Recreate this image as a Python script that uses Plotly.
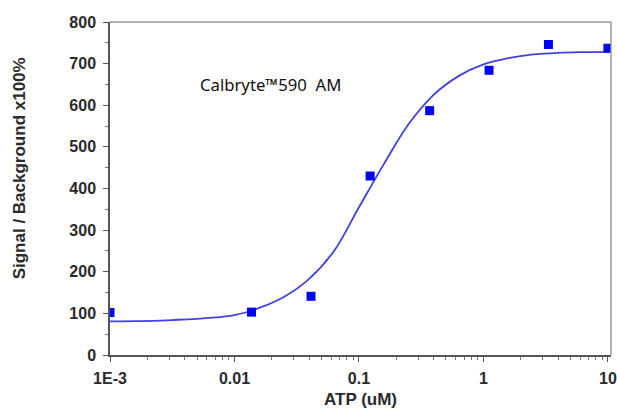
import plotly.graph_objects as go

# Measured data (ATP concentration, uM) and signal/background x100%
atp = [0.001, 0.0137, 0.0412, 0.123, 0.370, 1.11, 3.33, 10]
signal = [102, 103, 141, 430, 587, 684, 746, 737]

# Fitted curve
fit_x = [0.001, 0.00316, 0.01, 0.0158, 0.0251, 0.0398, 0.0631, 0.1, 0.158,
         0.251, 0.398, 0.631, 1.0, 1.585, 2.51, 3.98, 6.31, 10.6]
fit_y = [81, 84, 96, 113, 140, 183, 250, 355, 458, 555, 625, 670, 698, 713,
         722, 726, 727.5, 728]

x_tickvals = [0.001, 0.01, 0.1, 1, 10]
x_ticktext = ["1E-3", "0.01", "0.1", "1", "10"]
x_minor = [m * d for d in [0.001, 0.01, 0.1, 1] for m in range(2, 10)]
y_tickvals = [0, 100, 200, 300, 400, 500, 600, 700, 800]

fig = go.Figure()
fig.add_trace(go.Scatter(
    x=fit_x, y=fit_y, mode="lines",
    line=dict(color="rgb(65,65,225)", width=1.8, shape="spline", smoothing=1.0),
    hoverinfo="skip", showlegend=False))
fig.add_trace(go.Scatter(
    x=atp, y=signal, mode="markers",
    marker=dict(symbol="square", size=9, color="#0000ff"),
    showlegend=False, cliponaxis=True))

tickfont = dict(family="Liberation Sans, Arial", size=16, color="#2a2a2a", weight="bold")
titlefont = dict(family="Liberation Sans, Arial", size=17, color="#2a2a2a")

fig.update_layout(
    width=617, height=411,
    margin=dict(l=110, r=6, t=22, b=56, autoexpand=False),
    paper_bgcolor="white", plot_bgcolor="white",
    xaxis=dict(
        type="log", range=[-3, 1.025], automargin=False,
        tickvals=x_tickvals, ticktext=x_ticktext,
        ticks="outside", ticklen=5, tickwidth=1.2, tickcolor="#555555",
        minor=dict(tickvals=x_minor, ticks="outside", ticklen=3, tickcolor="#777777", showgrid=False),
        showline=True, linecolor="#555555", linewidth=1.5,
        showgrid=False, zeroline=False,
        tickfont=tickfont, ticklabelstandoff=3,
    ),
    yaxis=dict(
        range=[0, 800], automargin=False,
        tickvals=y_tickvals,
        ticks="outside", ticklen=5, tickwidth=1.2, tickcolor="#555555",
        minor=dict(dtick=50, ticks="outside", ticklen=3, tickcolor="#777777", showgrid=False),
        showline=True, linecolor="#555555", linewidth=1.5,
        showgrid=False, zeroline=False,
        tickfont=tickfont, ticklabelstandoff=4,
    ),
    shapes=[
        dict(type="line", xref="paper", yref="paper", x0=0, x1=1, y0=1, y1=1,
             line=dict(color="#999999", width=1.5)),
        dict(type="line", xref="paper", yref="paper", x0=1, x1=1, y0=0, y1=1,
             line=dict(color="#999999", width=1.5)),
    ],
    annotations=[
        dict(text="Calbryte™590  AM", x=0.321, y=0.811, xref="paper", yref="paper",
             xanchor="center", yanchor="middle", showarrow=False,
             font=dict(family="Noto Sans", size=16.7, color="#111111")),
        dict(text="<b>ATP (uM)</b>", x=0.5, y=-0.133, xref="paper", yref="paper",
             xanchor="center", yanchor="middle", showarrow=False, font=titlefont),
        dict(text="<b>Signal / Background x100%</b>", x=-0.18, y=0.56, xref="paper", yref="paper",
             xanchor="center", yanchor="middle", showarrow=False, textangle=-90, font=titlefont),
    ],
)

fig.write_html("out.html", config={"displayModeBar": False},
               post_script="document.body.style.margin='0';document.body.style.overflow='hidden';")
